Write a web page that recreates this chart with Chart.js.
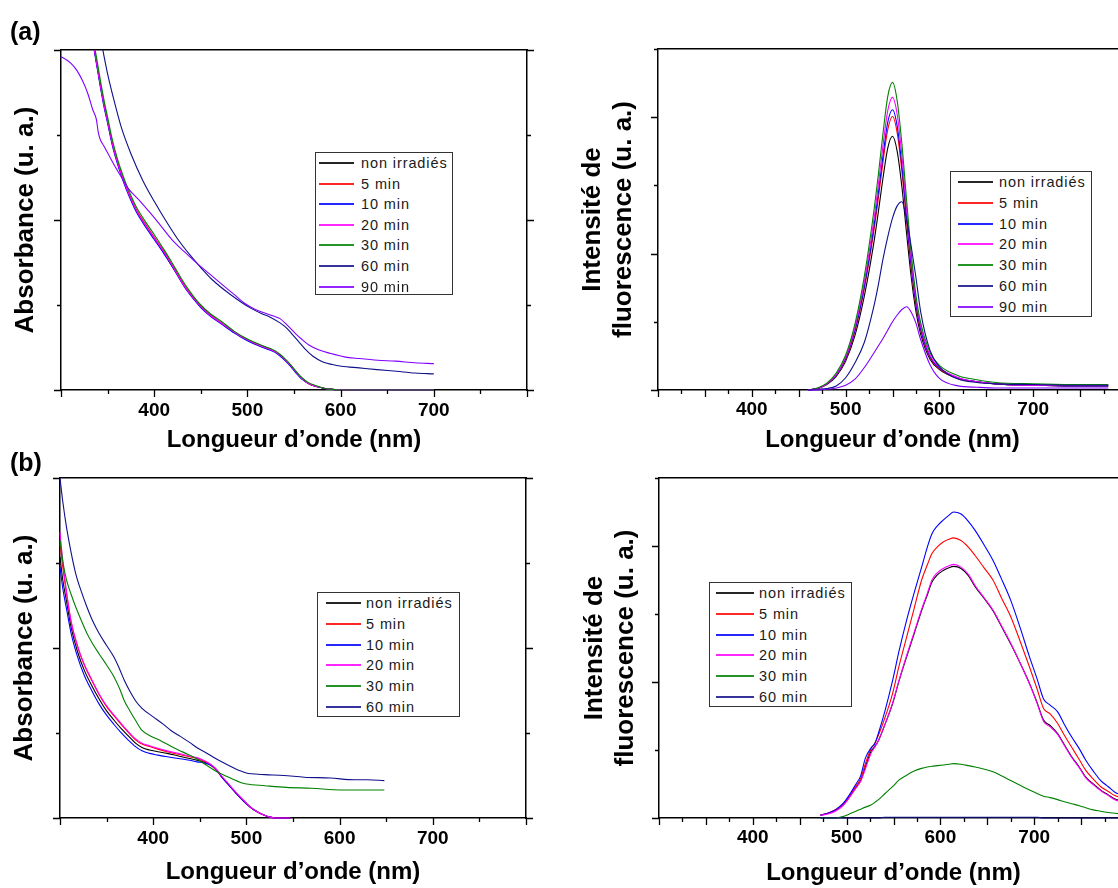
<!DOCTYPE html>
<html lang="fr">
<head>
<meta charset="utf-8">
<title>Absorbance et fluorescence</title>
<script src="https://cdn.jsdelivr.net/npm/chart.js@4.4.1/dist/chart.umd.min.js"></script>
<style>
  html, body { margin: 0; padding: 0; background: #fff; overflow: hidden; }
  #page { position: relative; width: 1118px; height: 888px; overflow: hidden; font-family: "Liberation Sans", Arial, sans-serif; }
  canvas { position: absolute; }
  .tag { position: absolute; font-weight: bold; font-size: 25px; line-height: 25px; color: #000; z-index: 2; }
  .legend { position: absolute; background: #fff; border: 1.5px solid #333; box-sizing: border-box; z-index: 2; }
  .legend .row { position: absolute; height: 20px; line-height: 20px; font-size: 14.5px; letter-spacing: 0.9px; color: #1a1a1a; white-space: nowrap; }
  .legend .swatch { position: absolute; height: 2px; opacity: 0.85; }
</style>
</head>
<body>
<div id="page">
  <div class="tag" style="left:10px; top:19px;">(a)</div>
  <div class="tag" style="left:10px; top:450px;">(b)</div>
  <canvas id="absA" width="547" height="420" style="left:0px; top:40px;"></canvas>
  <canvas id="fluoA" width="587" height="421" style="left:560px; top:39px;"></canvas>
  <canvas id="absB" width="546" height="420" style="left:0px; top:468px;"></canvas>
  <canvas id="fluoB" width="588" height="420" style="left:560px; top:468px;"></canvas>
</div>
<script>
// series names and colours
const labelsA = ['non irradiés', '5 min', '10 min', '20 min', '30 min', '60 min', '90 min'];
const colors = ['#000000', '#ff0000', '#0000ff', '#ff00ff', '#008000', '#10108a', '#8000ff'];
const xTickLabels = [400, 500, 600, 700];

// (a) absorbance
const absA_wlMain = [334, 338, 342, 346, 350, 355, 360, 365, 370, 375, 381, 390, 400, 410, 419, 427, 435, 443, 450, 460, 473, 486, 500, 512, 524, 530, 535, 541, 547, 553, 558, 565, 574, 582, 589, 600, 650, 700];
const absA_nonIrr = [4.12, 3.86, 3.60, 3.36, 3.16, 2.90, 2.70, 2.53, 2.38, 2.25, 2.11, 1.95, 1.79, 1.62, 1.46, 1.32, 1.18, 1.07, 0.98, 0.88, 0.78, 0.68, 0.59, 0.53, 0.48, 0.45, 0.41, 0.35, 0.28, 0.20, 0.14, 0.08, 0.04, 0.02, 0.01, 0.00, 0.00, 0.00];
const absA_5 = [4.13, 3.87, 3.61, 3.38, 3.17, 2.91, 2.71, 2.54, 2.39, 2.26, 2.12, 1.96, 1.80, 1.64, 1.48, 1.33, 1.19, 1.08, 0.99, 0.89, 0.78, 0.68, 0.59, 0.53, 0.48, 0.45, 0.41, 0.35, 0.28, 0.20, 0.14, 0.08, 0.04, 0.02, 0.01, 0.00, 0.00, 0.00];
const absA_10 = [4.10, 3.84, 3.58, 3.34, 3.14, 2.88, 2.68, 2.51, 2.36, 2.23, 2.09, 1.93, 1.77, 1.61, 1.46, 1.31, 1.17, 1.06, 0.97, 0.87, 0.77, 0.67, 0.58, 0.52, 0.47, 0.44, 0.40, 0.34, 0.27, 0.19, 0.13, 0.08, 0.04, 0.02, 0.01, 0.00, 0.00, 0.00];
const absA_20 = [4.12, 3.86, 3.60, 3.36, 3.16, 2.90, 2.70, 2.53, 2.38, 2.25, 2.11, 1.95, 1.79, 1.63, 1.47, 1.32, 1.18, 1.07, 0.98, 0.88, 0.78, 0.68, 0.59, 0.53, 0.48, 0.45, 0.41, 0.35, 0.28, 0.20, 0.14, 0.08, 0.04, 0.02, 0.01, 0.00, 0.00, 0.00];
const absA_30 = [4.16, 3.92, 3.66, 3.42, 3.21, 2.95, 2.74, 2.57, 2.42, 2.29, 2.15, 1.99, 1.83, 1.66, 1.50, 1.35, 1.21, 1.09, 1.00, 0.90, 0.80, 0.69, 0.60, 0.54, 0.49, 0.46, 0.42, 0.36, 0.29, 0.21, 0.15, 0.09, 0.05, 0.02, 0.01, 0.00, 0.00, 0.00];
const absA_wl60 = [344, 350, 358, 365, 375, 388, 400, 412, 425, 439, 450, 462, 481, 504, 515, 524, 535, 541, 547, 555, 562, 570, 581, 591, 601, 620, 639, 660, 680, 700];
const absA_60 = [4.05, 3.72, 3.36, 3.08, 2.78, 2.46, 2.22, 2.00, 1.78, 1.58, 1.44, 1.30, 1.13, 0.96, 0.90, 0.86, 0.79, 0.74, 0.67, 0.57, 0.48, 0.40, 0.33, 0.30, 0.28, 0.26, 0.24, 0.22, 0.20, 0.19];
const absA_wl90 = [300, 305, 311, 317, 323, 329, 334, 338, 340, 342, 346, 352, 358, 365, 373, 385, 396, 408, 419, 432, 446, 460, 473, 485, 497, 508, 520, 528, 535, 543, 551, 558, 566, 577, 589, 604, 620, 640, 659, 680, 700];
const absA_90 = [3.92, 3.89, 3.84, 3.76, 3.64, 3.48, 3.30, 3.18, 3.03, 2.95, 2.87, 2.75, 2.63, 2.50, 2.36, 2.22, 2.08, 1.92, 1.77, 1.63, 1.49, 1.36, 1.24, 1.13, 1.02, 0.95, 0.90, 0.87, 0.84, 0.76, 0.67, 0.60, 0.53, 0.47, 0.43, 0.39, 0.37, 0.35, 0.34, 0.32, 0.31];

// (a) fluorescence
const fluoA_wl = [460, 470, 480, 490, 500, 510, 520, 530, 535, 540, 545, 550, 555, 560, 565, 570, 575, 580, 590, 600, 620, 640, 660, 700, 740, 780];
const fluoA_nonIrr = [0.00, 0.02, 0.08, 0.20, 0.42, 0.80, 1.38, 2.15, 2.62, 3.12, 3.55, 3.72, 3.50, 2.98, 2.30, 1.65, 1.15, 0.82, 0.45, 0.30, 0.17, 0.12, 0.09, 0.07, 0.06, 0.06];
const fluoA_5 = [0.00, 0.02, 0.09, 0.22, 0.45, 0.86, 1.49, 2.32, 2.82, 3.36, 3.82, 4.01, 3.77, 3.21, 2.48, 1.78, 1.24, 0.88, 0.48, 0.31, 0.17, 0.12, 0.09, 0.07, 0.06, 0.06];
const fluoA_10 = [0.00, 0.02, 0.09, 0.22, 0.46, 0.88, 1.52, 2.38, 2.90, 3.45, 3.93, 4.11, 3.87, 3.29, 2.54, 1.82, 1.27, 0.90, 0.49, 0.32, 0.18, 0.12, 0.09, 0.07, 0.06, 0.06];
const fluoA_20 = [0.00, 0.02, 0.09, 0.23, 0.48, 0.92, 1.59, 2.48, 3.02, 3.60, 4.10, 4.29, 4.04, 3.44, 2.65, 1.90, 1.33, 0.94, 0.51, 0.33, 0.18, 0.12, 0.09, 0.07, 0.07, 0.07];
const fluoA_30 = [0.00, 0.03, 0.10, 0.25, 0.51, 0.97, 1.67, 2.61, 3.17, 3.78, 4.31, 4.51, 4.24, 3.61, 2.79, 2.00, 1.39, 0.99, 0.55, 0.36, 0.21, 0.15, 0.11, 0.09, 0.08, 0.08];
const fluoA_60 = [0.00, 0.01, 0.02, 0.06, 0.18, 0.40, 0.70, 1.22, 1.55, 1.93, 2.25, 2.52, 2.70, 2.76, 2.50, 2.10, 1.65, 1.15, 0.58, 0.34, 0.16, 0.11, 0.09, 0.08, 0.07, 0.07];
const fluoA_90 = [0.00, 0.00, 0.01, 0.03, 0.07, 0.16, 0.33, 0.54, 0.65, 0.76, 0.88, 1.00, 1.10, 1.18, 1.22, 1.14, 0.98, 0.74, 0.37, 0.17, 0.06, 0.04, 0.03, 0.03, 0.03, 0.03];

// (b) absorbance
const absB_wlMain = [300, 303, 307, 312, 319, 326, 334, 342, 350, 358, 365, 373, 381, 388, 396, 405, 415, 427, 439, 447, 454, 462, 468, 473, 481, 489, 497, 504, 512, 520, 526, 531, 540, 547];
const absB_nonIrr = [3.07, 2.80, 2.55, 2.24, 1.95, 1.74, 1.56, 1.40, 1.26, 1.15, 1.06, 0.97, 0.88, 0.83, 0.80, 0.78, 0.76, 0.73, 0.70, 0.68, 0.66, 0.62, 0.56, 0.49, 0.39, 0.29, 0.20, 0.13, 0.07, 0.03, 0.01, 0.00, 0.00, 0.00];
const absB_5 = [3.23, 2.95, 2.64, 2.30, 2.01, 1.80, 1.62, 1.45, 1.31, 1.20, 1.11, 1.01, 0.92, 0.87, 0.84, 0.81, 0.78, 0.75, 0.72, 0.70, 0.67, 0.62, 0.56, 0.49, 0.39, 0.29, 0.20, 0.13, 0.07, 0.03, 0.01, 0.00, 0.00, 0.00];
const absB_10 = [2.95, 2.70, 2.46, 2.17, 1.89, 1.68, 1.50, 1.34, 1.21, 1.10, 1.01, 0.92, 0.84, 0.79, 0.76, 0.74, 0.72, 0.70, 0.68, 0.66, 0.65, 0.62, 0.57, 0.49, 0.39, 0.29, 0.20, 0.13, 0.07, 0.03, 0.01, 0.00, 0.00, 0.00];
const absB_20 = [3.36, 3.02, 2.66, 2.31, 2.02, 1.81, 1.63, 1.46, 1.32, 1.21, 1.12, 1.02, 0.93, 0.88, 0.85, 0.82, 0.79, 0.76, 0.73, 0.71, 0.68, 0.63, 0.57, 0.50, 0.40, 0.30, 0.21, 0.13, 0.07, 0.03, 0.01, 0.00, 0.00, 0.00];
const absB_wl30 = [300, 303, 307, 312, 317, 323, 329, 335, 342, 350, 358, 364, 369, 375, 381, 388, 398, 408, 418, 427, 437, 446, 456, 466, 475, 485, 493, 500, 520, 543, 570, 601, 625, 648];
const absB_30 = [3.27, 3.02, 2.80, 2.63, 2.48, 2.32, 2.17, 2.05, 1.93, 1.80, 1.66, 1.52, 1.38, 1.26, 1.15, 1.03, 0.96, 0.91, 0.85, 0.80, 0.75, 0.70, 0.63, 0.56, 0.51, 0.46, 0.42, 0.40, 0.38, 0.36, 0.35, 0.33, 0.33, 0.33];
const absB_wl60 = [300, 303, 307, 312, 317, 323, 329, 335, 342, 350, 358, 364, 369, 375, 381, 388, 400, 410, 419, 429, 439, 448, 458, 467, 477, 488, 500, 505, 520, 540, 562, 590, 616, 630, 648];
const absB_60 = [4.00, 3.72, 3.42, 3.12, 2.87, 2.66, 2.48, 2.32, 2.17, 2.03, 1.89, 1.75, 1.62, 1.49, 1.38, 1.29, 1.19, 1.11, 1.03, 0.96, 0.89, 0.82, 0.76, 0.70, 0.64, 0.58, 0.53, 0.52, 0.51, 0.50, 0.48, 0.47, 0.45, 0.45, 0.44];

// (b) fluorescence
const fluoB_wl = [472, 480, 488, 496, 503, 510, 515, 520, 526, 530, 534, 541, 549, 556, 564, 572, 580, 586, 591, 597, 603, 609, 614, 622, 630, 637, 646, 656, 665, 675, 685, 695, 703, 710, 717, 725, 732, 740, 748, 755, 763, 771, 779, 786, 793, 800];
const fluoB_nonIrr = [0.04, 0.07, 0.11, 0.19, 0.31, 0.45, 0.55, 0.75, 0.98, 1.05, 1.14, 1.38, 1.68, 2.02, 2.37, 2.71, 3.05, 3.28, 3.47, 3.58, 3.64, 3.68, 3.70, 3.67, 3.56, 3.40, 3.24, 3.05, 2.82, 2.56, 2.28, 1.98, 1.70, 1.44, 1.36, 1.24, 1.08, 0.90, 0.75, 0.60, 0.50, 0.41, 0.34, 0.28, 0.25, 0.23];
const fluoB_5 = [0.04, 0.07, 0.12, 0.20, 0.32, 0.47, 0.58, 0.80, 1.02, 1.10, 1.22, 1.48, 1.83, 2.24, 2.66, 3.08, 3.50, 3.72, 3.89, 3.99, 4.06, 4.10, 4.12, 4.08, 3.98, 3.86, 3.69, 3.50, 3.24, 2.96, 2.60, 2.22, 1.90, 1.61, 1.53, 1.39, 1.22, 1.04, 0.86, 0.70, 0.57, 0.46, 0.39, 0.33, 0.30, 0.27];
const fluoB_10 = [0.04, 0.07, 0.12, 0.21, 0.34, 0.50, 0.62, 0.88, 1.03, 1.09, 1.25, 1.58, 2.02, 2.46, 2.91, 3.31, 3.69, 3.98, 4.18, 4.30, 4.38, 4.45, 4.50, 4.47, 4.36, 4.23, 4.03, 3.79, 3.52, 3.20, 2.80, 2.37, 2.05, 1.75, 1.66, 1.56, 1.38, 1.19, 1.02, 0.85, 0.69, 0.55, 0.46, 0.38, 0.34, 0.30];
const fluoB_20 = [0.04, 0.06, 0.10, 0.18, 0.30, 0.44, 0.54, 0.72, 0.95, 1.04, 1.14, 1.38, 1.69, 2.03, 2.39, 2.73, 3.07, 3.30, 3.50, 3.61, 3.67, 3.71, 3.73, 3.69, 3.58, 3.42, 3.25, 3.06, 2.83, 2.57, 2.28, 1.97, 1.69, 1.42, 1.34, 1.23, 1.07, 0.89, 0.74, 0.59, 0.49, 0.40, 0.33, 0.27, 0.24, 0.22];
const fluoB_30 = [0.00, 0.00, 0.00, 0.02, 0.06, 0.10, 0.13, 0.16, 0.19, 0.23, 0.27, 0.36, 0.46, 0.56, 0.63, 0.69, 0.73, 0.75, 0.76, 0.77, 0.78, 0.79, 0.80, 0.79, 0.77, 0.75, 0.72, 0.68, 0.62, 0.55, 0.48, 0.41, 0.36, 0.32, 0.30, 0.27, 0.24, 0.21, 0.18, 0.15, 0.12, 0.10, 0.08, 0.07, 0.06, 0.05];
const fluoB_60 = [0.00, 0.00, 0.00, 0.00, 0.00, 0.00, 0.00, 0.00, 0.00, 0.00, 0.00, 0.01, 0.01, 0.01, 0.01, 0.01, 0.01, 0.01, 0.01, 0.01, 0.01, 0.01, 0.01, 0.01, 0.01, 0.01, 0.01, 0.01, 0.01, 0.01, 0.01, 0.01, 0.01, 0.00, 0.00, 0.00, 0.00, 0.00, 0.00, 0.00, 0.00, 0.00, 0.00, 0.00, 0.00, 0.00];

const FONT = '"Liberation Sans", Arial, sans-serif';

function pairs(wl, vals) { return wl.map((x, i) => ({ x: x, y: vals[i] })); }

// outward tick marks, long on majors
const frameTicks = {
    id: 'frameTicks',
    afterDraw(chart, args, opts) {
        const { ctx, chartArea: a, scales } = chart;
        ctx.save();
        ctx.strokeStyle = '#000';
        ctx.lineWidth = 1.3;
        ctx.beginPath();
        scales.x.ticks.forEach(t => {
            const px = Math.round(scales.x.getPixelForValue(t.value)) + 0.5;
            const len = t.value % opts.xMajor === 0 ? 7 : 4;
            ctx.moveTo(px, a.bottom); ctx.lineTo(px, a.bottom + len);
        });
        scales.y.ticks.forEach(t => {
            const py = Math.round(scales.y.getPixelForValue(t.value)) + 0.5;
            const len = t.value % 2 === 0 ? 7 : 4;
            ctx.moveTo(a.left, py); ctx.lineTo(a.left - len, py);
            ctx.moveTo(a.right, py); ctx.lineTo(a.right + len, py);
        });
        ctx.stroke();
        ctx.restore();
    }
};

function makePanel(id, cfg) {
    const border = { display: true, color: '#000', width: 1.5 };
    return new Chart(document.getElementById(id), {
        type: 'line',
        data: {
            datasets: cfg.sets.map((s, i) => ({
                label: labelsA[i],
                data: pairs(s[0], s[1]),
                borderColor: colors[i],
                borderWidth: 1.1,
                pointRadius: 0,
                cubicInterpolationMode: 'monotone',
                fill: false,
                order: -i,
                clip: { left: 1, top: 0, right: 1, bottom: 2 },
                xAxisID: 'x',
                yAxisID: 'y'
            }))
        },
        options: {
            responsive: false,
            animation: false,
            devicePixelRatio: 1,
            events: [],
            layout: { padding: 0 },
            plugins: {
                legend: { display: false },
                tooltip: { enabled: false },
                frameTicks: { xMajor: cfg.xMajor }
            },
            scales: {
                x: {
                    type: 'linear', position: 'bottom', min: 300, max: 800,
                    afterFit: s => { s.height = cfg.bottom; },
                    grid: { display: false, drawTicks: true, tickLength: 7 },
                    border: border,
                    ticks: {
                        stepSize: cfg.xStep, maxTicksLimit: 40, autoSkip: false, maxRotation: 0,
                        padding: cfg.tickPad, color: '#000',
                        font: { family: FONT, size: 19, weight: 'bold' },
                        callback: v => xTickLabels.includes(v) ? String(v) : ''
                    },
                    title: {
                        display: true, text: 'Longueur d\u2019onde (nm)', color: '#000',
                        font: { family: FONT, size: 24, weight: 'bold' },
                        padding: { top: 0, bottom: cfg.xTitlePad }
                    }
                },
                y: {
                    type: 'linear', position: 'left', min: 0, max: cfg.yMax,
                    afterFit: s => { s.width = cfg.left; },
                    grid: { display: false },
                    border: border,
                    ticks: { display: false, stepSize: 1 },
                    title: {
                        display: true, text: cfg.yTitle, color: '#000',
                        font: { family: FONT, size: 26, weight: 'bold', lineHeight: cfg.yLine },
                        padding: { top: cfg.yTitlePad, bottom: 0 }
                    }
                },
                xTop: {
                    type: 'linear', axis: 'x', position: 'top', display: true,
                    afterFit: s => { s.height = cfg.top; },
                    grid: { display: false, drawTicks: false },
                    border: border,
                    ticks: { display: false }
                },
                yRight: {
                    type: 'linear', axis: 'y', position: 'right', display: true,
                    afterFit: s => { s.width = cfg.right; },
                    grid: { display: false, drawTicks: false },
                    border: border,
                    ticks: { display: false }
                }
            }
        },
        plugins: [frameTicks]
    });
}

function addLegend(chart, box) {
    const el = document.createElement('div');
    el.className = 'legend';
    Object.assign(el.style, { left: box.x + 'px', top: box.y + 'px', width: box.w + 'px', height: box.h + 'px' });
    chart.data.datasets.forEach((ds, i) => {
        const cy = Math.round(box.row0 + i * box.step);
        const sw = document.createElement('div');
        sw.className = 'swatch';
        Object.assign(sw.style, { left: box.swX + 'px', width: box.swW + 'px', top: (cy - 1) + 'px', background: ds.borderColor });
        const tx = document.createElement('div');
        tx.className = 'row';
        tx.textContent = ds.label;
        Object.assign(tx.style, { left: box.txX + 'px', top: (cy - 10) + 'px' });
        el.append(sw, tx);
    });
    document.getElementById('page').appendChild(el);
}

const absA = makePanel('absA', {
    sets: [[absA_wlMain, absA_nonIrr], [absA_wlMain, absA_5], [absA_wlMain, absA_10], [absA_wlMain, absA_20],
           [absA_wlMain, absA_30], [absA_wl60, absA_60], [absA_wl90, absA_90]],
    left: 61, top: 10, right: 20, bottom: 70, yMax: 4, xStep: 50, xMajor: 100,
    yTitle: 'Absorbance (u. a.)', yTitlePad: 10, yLine: 1.2, xTitlePad: 5, tickPad: 2
});
const fluoA = makePanel('fluoA', {
    sets: [[fluoA_wl, fluoA_nonIrr], [fluoA_wl, fluoA_5], [fluoA_wl, fluoA_10], [fluoA_wl, fluoA_20],
           [fluoA_wl, fluoA_30], [fluoA_wl, fluoA_60], [fluoA_wl, fluoA_90]],
    left: 98, top: 10, right: 20, bottom: 70, yMax: 5, xStep: 25, xMajor: 50,
    yTitle: ['Intensité de', 'fluorescence (u. a.)'], yTitlePad: 17, yLine: '31px', xTitlePad: 5, tickPad: 1
});
const absB = makePanel('absB', {
    sets: [[absB_wlMain, absB_nonIrr], [absB_wlMain, absB_5], [absB_wlMain, absB_10], [absB_wlMain, absB_20],
           [absB_wl30, absB_30], [absB_wl60, absB_60]],
    left: 60, top: 10, right: 20, bottom: 70, yMax: 4, xStep: 50, xMajor: 100,
    yTitle: 'Absorbance (u. a.)', yTitlePad: 9, yLine: 1.2, xTitlePad: 1, tickPad: 2
});
const fluoB = makePanel('fluoB', {
    sets: [[fluoB_wl, fluoB_nonIrr], [fluoB_wl, fluoB_5], [fluoB_wl, fluoB_10], [fluoB_wl, fluoB_20],
           [fluoB_wl, fluoB_30], [fluoB_wl, fluoB_60]],
    left: 99, top: 10, right: 20, bottom: 70, yMax: 5, xStep: 25, xMajor: 50,
    yTitle: ['Intensité de', 'fluorescence (u. a.)'], yTitlePad: 19, yLine: '31px', xTitlePad: 0, tickPad: 1
});

addLegend(absA, { x: 315, y: 152, w: 138, h: 143, row0: 10, step: 20.6, swX: 3, swW: 35, txX: 45 });
addLegend(fluoA, { x: 950, y: 171, w: 142, h: 146, row0: 10, step: 20.8, swX: 7, swW: 35, txX: 48 });
addLegend(absB, { x: 317, y: 592, w: 143, h: 125, row0: 10, step: 20.8, swX: 8, swW: 35, txX: 48 });
addLegend(fluoB, { x: 709, y: 582, w: 143, h: 125, row0: 10, step: 20.8, swX: 6, swW: 38, txX: 49 });
</script>
</body>
</html>
